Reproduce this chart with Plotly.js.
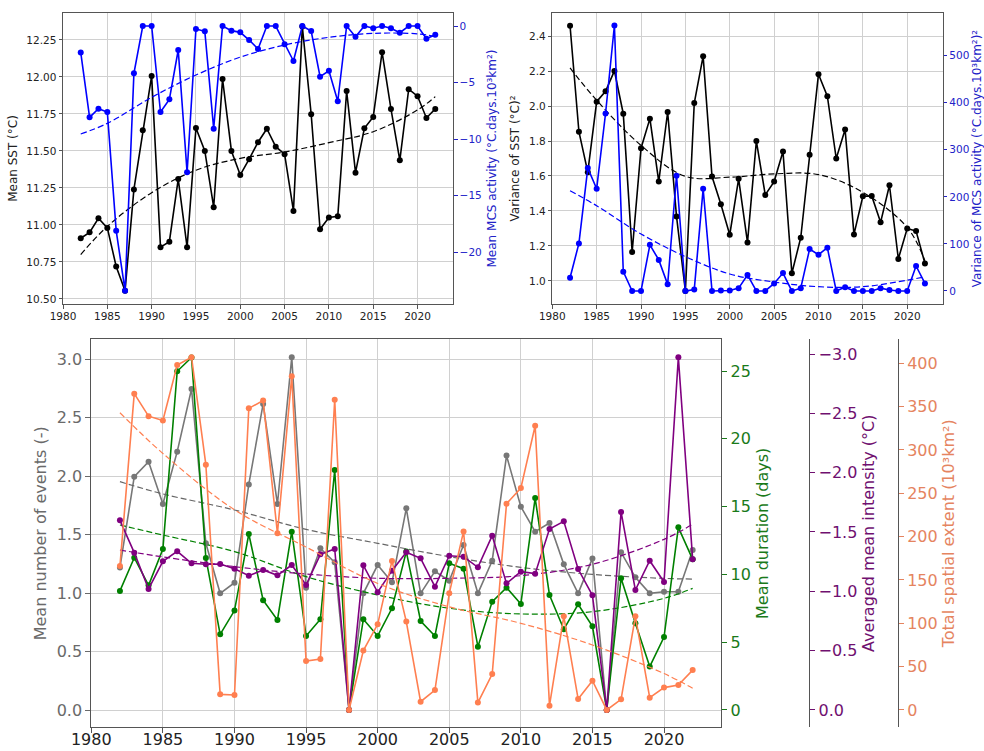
<!DOCTYPE html>
<html>
<head>
<meta charset="utf-8">
<script src="https://cdn.plot.ly/plotly-3.0.1.min.js"></script>
<style>html,body{margin:0;padding:0;background:#fff;}#chart{width:984px;height:751px;}</style>
</head>
<body>
<div id="chart"></div>
<script>
const years = [1982,1983,1984,1985,1986,1987,1988,1989,1990,1991,1992,1993,1994,1995,1996,1997,1998,1999,2000,2001,2002,2003,2004,2005,2006,2007,2008,2009,2010,2011,2012,2013,2014,2015,2016,2017,2018,2019,2020,2021,2022];
const trendYears = [1982,1985,1990,1995,2000,2005,2010,2015,2020,2022];

// Top-left panel
const sstMean = [10.91,10.95,11.045,10.98,10.72,10.556,11.24,11.64,12.007,10.85,10.887,11.31,10.85,11.655,11.50,11.12,11.986,11.50,11.338,11.444,11.559,11.65,11.529,11.478,11.095,12.34,11.748,10.971,11.05,11.059,11.905,11.353,11.653,11.73,12.167,11.784,11.437,11.917,11.87,11.723,11.784];
const mcsMean = [-2.33,-8.07,-7.30,-7.60,-18.08,-23.38,-4.18,0,0,-7.6,-6.48,-2.12,-12.93,-0.27,-0.47,-9.07,0,-0.41,-0.56,-1.24,-2.03,0,0,-1.62,-3.09,0,-0.44,-4.48,-3.95,-6.65,0,-0.94,0,-0.2,0,-0.2,-0.59,0,0,-1.12,-0.77];
const sstMeanTrend = [10.80,10.99,11.218,11.37,11.45,11.493,11.556,11.63,11.777,11.867];
const mcsMeanTrend = [-9.54,-8.6,-6.3,-4.33,-2.75,-1.68,-1.0,-0.65,-0.69,-0.94];

// Top-right panel
const sstVar = [2.459,1.853,1.622,2.025,2.084,2.201,1.956,1.166,1.759,1.928,1.568,1.966,1.369,0.943,2.017,2.285,1.597,1.438,1.264,1.584,1.22,1.80,1.492,1.568,1.74,1.044,1.247,1.721,2.182,2.056,1.70,1.866,1.266,1.484,1.486,1.335,1.547,1.126,1.30,1.285,1.10];
const mcsVar = [28,101,261,217,377,564,41,0,0,98,66,14,245,0,3,217,0,1,1,6,34,0,0,16,38,0,6,89,77,92,0,8,0,0,0,6,2,0,0,53,16];
const sstVarTrend = [2.218,2.033,1.775,1.598,1.593,1.612,1.608,1.507,1.306,1.115];
const mcsVarTrend = [213,181,121,73,36,19,9,9,23,30];

// Bottom panel
const nEvents = [1.22,1.996,2.124,1.762,2.21,2.746,1.426,0.998,1.089,1.93,2.618,1.762,3.017,1.046,1.383,1.263,0,0.998,1.24,1.092,1.725,0.998,1.186,1.106,1.411,0.998,1.277,2.176,1.739,1.525,1.60,1.246,0.998,1.297,0,1.349,1.135,0.998,1.012,1.012,1.369];
const duration = [8.78,11.23,9.19,11.87,24.98,26.0,11.21,5.58,7.33,12.98,8.09,6.64,13.15,5.46,6.69,17.70,0,6.69,5.46,7.5,11.68,6.56,5.46,10.82,10.42,4.67,7.99,9.02,7.82,15.63,8.48,5.95,7.79,6.17,0,9.71,6.39,3.2,5.38,13.47,11.11];
const intensity = [-1.598,-1.326,-1.02,-1.253,-1.337,-1.236,-1.228,-1.23,-1.191,-1.132,-1.18,-1.135,-1.222,-1.053,-1.312,-1.357,0,-1.219,-0.992,-1.174,-1.329,-1.278,-1.039,-1.30,-1.292,-1.202,-1.469,-1.067,-1.166,-1.149,-1.525,-1.59,-1.188,-0.966,0,-1.669,-1.011,-1.258,-1.079,-2.972,-1.27];
const extent = [166,365,339,334,398,407,283,18,17.3,348,357,204,385,56.5,58.8,358,0,68.5,98.8,172,102,9.6,23,134.6,206,8.5,41.5,238,256,328,5,108,12.7,33.8,0,12.3,108,14.2,25.8,28.8,46];
const nEventsTrend = [1.953,1.848,1.711,1.545,1.426,1.312,1.22,1.16,1.126,1.12];
const durationTrend = [13.64,12.9,11.68,9.83,8.48,7.5,7.08,7.25,8.23,8.97];
const intensityTrend = [-1.348,-1.29,-1.208,-1.146,-1.11,-1.11,-1.132,-1.228,-1.438,-1.565];
const extentTrend = [343,296,231,188,146,119,100,75,42,25];

const FONT = 'DejaVu Sans, sans-serif';
const C = {black:'#000000', blue:'#0000ff', gray:'#777777', green:'#008000', purple:'#800080', coral:'#ff7f50'};
const T = {blue:'#2222c8', gray:'#6a6a6a', green:'#1a7a1a', purple:'#701070', coral:'#e5845f'};

function series(x, y, color, xa, ya, msize, lw) {
  return {x:x, y:y, type:'scatter', mode:'lines+markers', xaxis:xa, yaxis:ya,
    line:{color:color, width:lw}, marker:{color:color, size:msize}, hoverinfo:'skip'};
}
function trend(x, y, color, xa, ya, lw) {
  return {x:x, y:y, type:'scatter', mode:'lines', xaxis:xa, yaxis:ya,
    line:{color:color, width:lw, dash:'6px,3px', shape:'spline', smoothing:1}, hoverinfo:'skip'};
}

const traces = [
  series(years, sstMean, C.black, 'x', 'y', 6, 1.6),
  trend(trendYears, sstMeanTrend, C.black, 'x', 'y', 1.2),
  series(years, mcsMean, C.blue, 'x', 'y2', 6, 1.6),
  trend(trendYears, mcsMeanTrend, C.blue, 'x', 'y2', 1.2),

  series(years, sstVar, C.black, 'x2', 'y3', 6, 1.6),
  trend(trendYears, sstVarTrend, C.black, 'x2', 'y3', 1.2),
  series(years, mcsVar, C.blue, 'x2', 'y4', 6, 1.6),
  trend(trendYears, mcsVarTrend, C.blue, 'x2', 'y4', 1.2),

  series(years, nEvents, C.gray, 'x3', 'y5', 6, 1.6),
  trend(trendYears, nEventsTrend, '#666666', 'x3', 'y5', 1.2),
  series(years, duration, C.green, 'x3', 'y6', 6, 1.6),
  trend(trendYears, durationTrend, C.green, 'x3', 'y6', 1.2),
  series(years, intensity, C.purple, 'x3', 'y7', 6, 1.6),
  trend(trendYears, intensityTrend, C.purple, 'x3', 'y7', 1.2),
  series(years, extent, C.coral, 'x3', 'y8', 6, 1.6),
  trend(trendYears, extentTrend, C.coral, 'x3', 'y8', 1.2)
];

const W = 984, H = 751;
const SPINE = '#555555';
const GRID = '#d0d0d0';
const topDom = [1 - 304/H, 1 - 13/H];
const botDom = [1 - 727.3/H, 1 - 339.3/H];

function xAx(dom, anchor, fs, tl, so) {
  return {domain:dom, anchor:anchor, range:[1980,2024], tick0:1980, dtick:5,
    showgrid:true, gridcolor:GRID, gridwidth:1, zeroline:false,
    showline:true, linecolor:SPINE, linewidth:1, mirror:true,
    ticks:'outside', ticklen:tl, tickcolor:SPINE, ticklabelstandoff:so,
    tickfont:{family:FONT, size:fs, color:'#222'}};
}
function yAx(opts) {
  const color = opts.color || '#222';
  const a = {range:opts.range, dtick:opts.dtick, tick0:0, zeroline:false,
    showgrid:!!opts.grid, gridcolor:GRID, gridwidth:1,
    showline:true, linecolor:SPINE, linewidth:1,
    ticks:'outside', ticklen:opts.tl, tickcolor:opts.tickcolor || SPINE,
    tickfont:{family:FONT, size:opts.fs, color:color},
    title:{text:opts.title, font:{family:FONT, size:opts.tfs, color:opts.tcolor || color}, standoff:opts.standoff || 6}};
  if (opts.fmt) a.tickformat = opts.fmt;
  if (opts.domain) a.domain = opts.domain;
  if (opts.anchor) a.anchor = opts.anchor;
  if (opts.overlaying) a.overlaying = opts.overlaying;
  if (opts.side) a.side = opts.side;
  if (opts.position !== undefined) a.position = opts.position;
  return a;
}

const layout = {
  width:W, height:H, margin:{l:0, r:0, t:0, b:0},
  paper_bgcolor:'#fff', plot_bgcolor:'#fff', showlegend:false,
  font:{family:FONT},
  xaxis: xAx([63/W, 453/W], 'y', 10.5, 3.5, -1),
  yaxis: yAx({domain:topDom, anchor:'x', range:[10.466,12.432], dtick:0.25, fmt:'.2f', grid:true,
              fs:10.5, tfs:12, tl:3.5, title:'Mean SST (°C)', color:'#222'}),
  yaxis2: yAx({overlaying:'y', anchor:'x', side:'right', range:[-24.56,1.15], dtick:5,
              fs:10.5, tfs:12, tl:3.5, title:'Mean MCS activity (°C.days.10³km²)', color:T.blue, tickcolor:T.blue}),

  xaxis2: xAx([552.3/W, 942.7/W], 'y3', 10.5, 3.5, -1),
  yaxis3: yAx({domain:topDom, anchor:'x2', range:[0.868,2.532], dtick:0.2, fmt:'.1f', grid:true,
              fs:10.5, tfs:12, tl:3.5, title:'Variance of SST (°C)²', color:'#222'}),
  yaxis4: yAx({overlaying:'y3', anchor:'x2', side:'right', range:[-27.7,590.5], dtick:100,
              fs:10.5, tfs:12, tl:3.5, title:'Variance of MCS activity (°C.days.10³km²)²', color:T.blue, tickcolor:T.blue}),

  xaxis3: xAx([91.3/W, 721.3/W], 'y5', 16, 5, -8),
  yaxis5: yAx({domain:botDom, anchor:'x3', range:[-0.148,3.171], dtick:0.5, fmt:'.1f', grid:true,
              fs:16, tfs:16, tl:5, title:'Mean number of events (-)', color:T.gray, tickcolor:T.gray}),
  yaxis6: yAx({overlaying:'y5', anchor:'x3', side:'right', range:[-1.28,27.34], dtick:5,
              fs:16, tfs:16, tl:5, title:'Mean duration (days)', color:T.green, tickcolor:T.green}),
  yaxis7: yAx({overlaying:'y5', anchor:'free', position:809.3/W, side:'right', range:[0.146,-3.124], dtick:0.5, fmt:'.1f',
              fs:16, tfs:16, tl:5, title:'Averaged mean intensity (°C)', color:T.purple, tickcolor:T.purple}),
  yaxis8: yAx({overlaying:'y5', anchor:'free', position:898/W, side:'right', range:[-20,427.7], dtick:50,
              fs:16, tfs:16, tl:5, title:'Total spatial extent (10³km²)', color:T.coral, tickcolor:T.coral})
};

Plotly.newPlot('chart', traces, layout, {staticPlot:true, displayModeBar:false});
</script>
</body>
</html>
